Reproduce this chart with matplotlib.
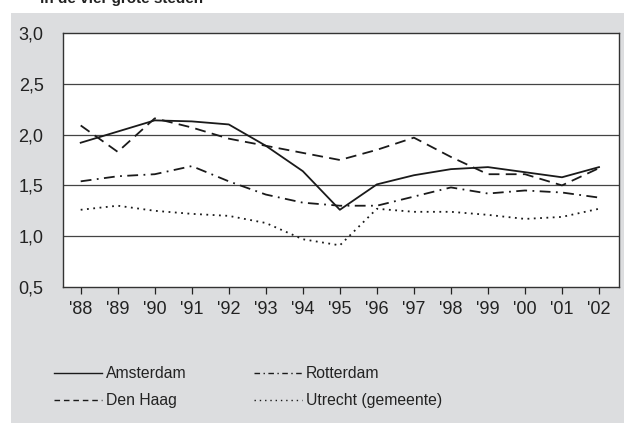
import matplotlib
matplotlib.use("Agg")
import matplotlib.pyplot as plt
from matplotlib.patches import Rectangle

plt.rcParams['font.family'] = ['Liberation Sans', 'DejaVu Sans']

years = ["'88", "'89", "'90", "'91", "'92", "'93", "'94", "'95", "'96", "'97", "'98", "'99", "'00", "'01", "'02"]
amsterdam = [1.92, 2.03, 2.14, 2.13, 2.10, 1.89, 1.64, 1.26, 1.51, 1.60, 1.66, 1.68, 1.63, 1.58, 1.68]
den_haag = [2.09, 1.83, 2.16, 2.07, 1.96, 1.89, 1.82, 1.75, 1.85, 1.97, 1.78, 1.61, 1.61, 1.50, 1.67]
rotterdam = [1.54, 1.59, 1.61, 1.69, 1.54, 1.41, 1.33, 1.30, 1.30, 1.39, 1.48, 1.42, 1.45, 1.43, 1.38]
utrecht = [1.26, 1.30, 1.25, 1.22, 1.20, 1.13, 0.97, 0.91, 1.27, 1.24, 1.24, 1.21, 1.17, 1.19, 1.27]
yticks = [0.5, 1.0, 1.5, 2.0, 2.5, 3.0]
ytick_labels = ["0,5", "1,0", "1,5", "2,0", "2,5", "3,0"]
title = "in de vier grote steden"

W, H = 624, 423
fig = plt.figure(figsize=(W / 100, H / 100), dpi=100)
fig.patch.set_facecolor('white')
fig.patches.append(Rectangle((11 / W, 0), 1 - 11 / W, 1 - 13 / H, transform=fig.transFigure,
                             facecolor='#dcdddf', edgecolor='none', zorder=-10))
fig.text(40 / W, 1 - 3 / H, title, fontsize=11, fontweight='bold', va='baseline', ha='left', color='#222222')

ax = fig.add_axes([63 / W, 1 - 287 / H, (619 - 63) / W, (287 - 33) / H])
ax.set_zorder(2)
ax.set_facecolor('white')
x = list(range(len(years)))
lc = '#1a1a1a'
lw = 1.3
ax.plot(x, amsterdam, color=lc, lw=lw, linestyle='-', label='Amsterdam')
ax.plot(x, den_haag, color=lc, lw=lw, linestyle=(0, (6, 3.5)), label='Den Haag')
ax.plot(x, rotterdam, color=lc, lw=lw, linestyle=(0, (6, 3, 1, 3)), label='Rotterdam')
ax.plot(x, utrecht, color=lc, lw=lw, linestyle=(0, (1, 2.5)), label='Utrecht (gemeente)')

for g in yticks[1:-1]:
    ax.axhline(g, color='#444444', lw=0.9, zorder=0)

ax.set_ylim(0.5, 3.0)
ax.set_xlim(-0.478, 14.54)
ax.set_yticks(yticks)
ax.set_yticklabels(ytick_labels)
ax.set_xticks(x)
ax.set_xticklabels(years)
ax.tick_params(axis='y', length=0, pad=14, labelsize=13, colors='#222222')
ax.tick_params(axis='x', length=5, width=0.9, pad=5, labelsize=13, colors='#222222', direction='out')
for s in ax.spines.values():
    s.set_color('#333333')
    s.set_linewidth(1.0)

h, l = ax.get_legend_handles_labels()
leg_lines = [plt.Line2D([], [], color=lc, lw=1.0) for hh in h]
leg_lines[1].set_dashes((4, 2.8))
leg_lines[2].set_dashes((4, 2.5, 1, 2.5))
leg_lines[3].set_dashes((1, 2.8))
leg = fig.legend(leg_lines, l, ncol=2,
                 loc='upper left', bbox_to_anchor=(40 / W, 1 - 352 / H),
                 frameon=False, fontsize=11.3, handlelength=3.06, handletextpad=0.25,
                 columnspacing=4.27, labelspacing=0.78)
for t in leg.get_texts():
    t.set_color('#222222')
leg.set_zorder(3)

fig.savefig('out.png', dpi=100, facecolor='white')
